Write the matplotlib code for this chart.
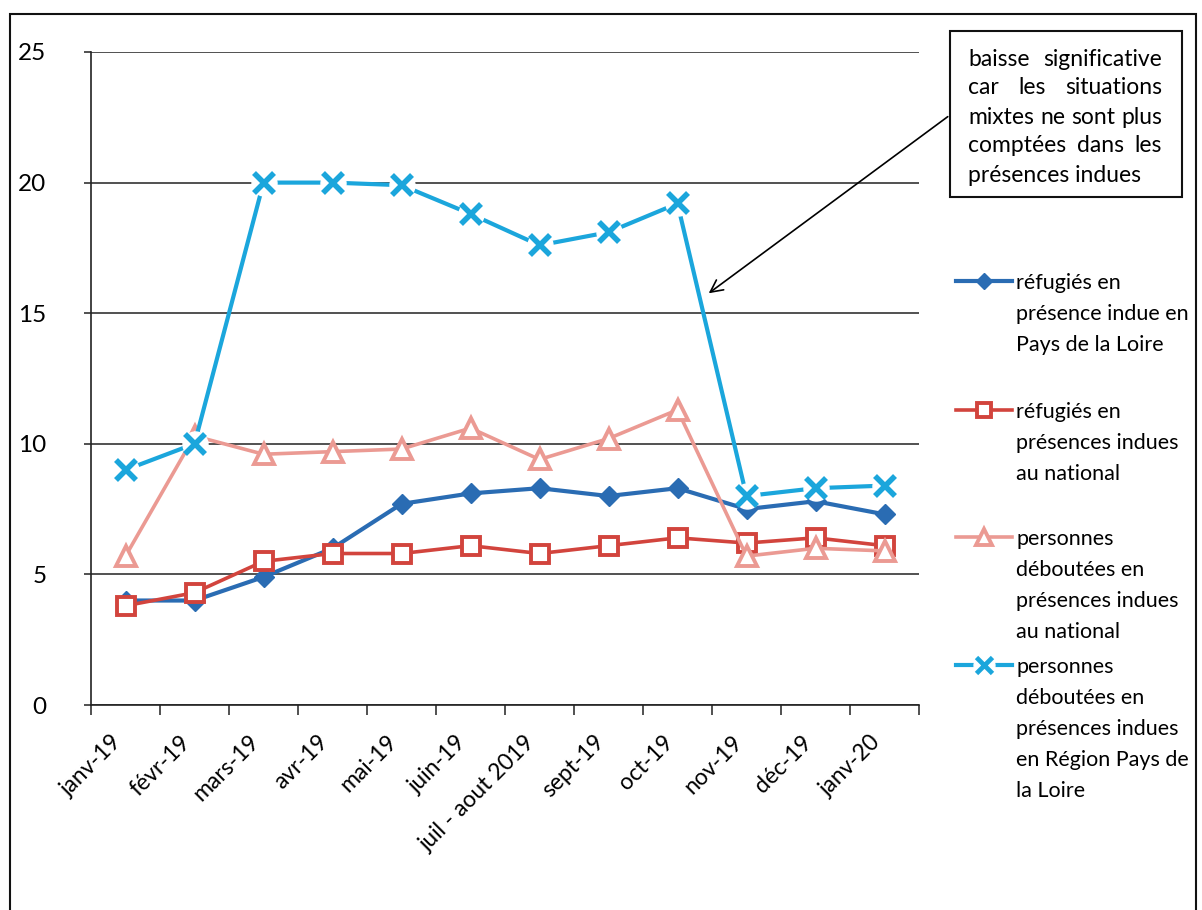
import numpy as np
import matplotlib
matplotlib.use("Agg")
import matplotlib.pyplot as plt
from matplotlib.patches import Rectangle
from matplotlib.lines import Line2D

plt.rcParams['font.family'] = ['Lato', 'DejaVu Sans']

mois = ['janv-19', 'févr-19', 'mars-19', 'avr-19', 'mai-19', 'juin-19',
        'juil - aout 2019', 'sept-19', 'oct-19', 'nov-19', 'déc-19', 'janv-20']
refugies_pdl = [4.0, 4.0, 4.9, 6.0, 7.7, 8.1, 8.3, 8.0, 8.3, 7.5, 7.8, 7.3]
refugies_nat = [3.8, 4.3, 5.5, 5.8, 5.8, 6.1, 5.8, 6.1, 6.4, 6.2, 6.4, 6.1]
deboutes_nat = [5.7, 10.3, 9.6, 9.7, 9.8, 10.6, 9.4, 10.2, 11.3, 5.7, 6.0, 5.9]
deboutes_pdl = [9.0, 10.0, 20.0, 20.0, 19.9, 18.8, 17.6, 18.1, 19.2, 8.0, 8.3, 8.4]

libelles = ['réfugiés en\nprésence indue en\nPays de la Loire',
            'réfugiés en\nprésences indues\nau national',
            'personnes\ndéboutées en\nprésences indues\nau national',
            'personnes\ndéboutées en\nprésences indues\nen Région Pays de\nla Loire']
note = ['baisse significative', 'car les situations', 'mixtes ne sont plus',
        'comptées dans les', 'présences indues']

W, H = 1202, 910
BLEU, ROUGE, ROSE, CYAN = '#2a6cb3', '#d2443d', '#eb9a93', '#1ba6dc'


def fx(px):
    return px / W


def fy(py):
    return 1 - py / H


fig = plt.figure(figsize=(W / 100, H / 100), dpi=100)
ax = fig.add_axes([fx(91), fy(705), fx(919 - 91), (705 - 52) / H])
x = np.arange(len(mois))

styles = [
    dict(color=BLEU, lw=3.0, marker='D', ms=10.5, mfc=BLEU, mec=BLEU),
    dict(color=ROUGE, lw=2.6, marker='s', ms=13, mfc='white', mec=ROUGE, mew=2.8),
    dict(color=ROSE, lw=2.6, marker='^', ms=14, mfc='white', mec=ROSE, mew=2.8),
    dict(color=CYAN, lw=3.0, marker='x', ms=15, mec=CYAN, mew=4.0),
]
series = [refugies_pdl, refugies_nat, deboutes_nat, deboutes_pdl]

for i, (vals, st) in enumerate(zip(series, styles)):
    if st['marker'] == 'x':
        ax.plot(x, vals, color=st['color'], lw=st['lw'], zorder=3 + i)
        # white backing so the line stops short of each cross
        ax.plot(x, vals, ls='none', marker='o', ms=18, mfc='white', mec='white', zorder=3 + i)
        ax.plot(x, vals, ls='none', marker='x', ms=st['ms'], mec=st['color'],
                mew=st['mew'], zorder=3 + i, clip_on=False)
    else:
        ax.plot(x, vals, zorder=3 + i, clip_on=False, **st)

ax.set_xlim(-0.5, len(mois) - 0.5)
ax.set_ylim(0, 25)
ax.set_yticks([0, 5, 10, 15, 20, 25])
ax.yaxis.grid(True, color='#222222', lw=1.1)
ax.set_axisbelow(True)
ax.tick_params(axis='y', length=5, width=1.1, color='#222222', pad=27, labelsize=17.5)
ax.set_xticks(x)
ax.set_xticklabels(mois, rotation=45, ha='right', fontsize=16.5)
ax.set_xticks(np.arange(len(mois) + 1) - 0.5, minor=True)
ax.tick_params(axis='x', which='major', length=0, pad=19)
ax.tick_params(axis='x', which='minor', length=7, width=1.1, color='#222222')
for s in ['top', 'right']:
    ax.spines[s].set_visible(False)
for s in ['left', 'bottom']:
    ax.spines[s].set_color('#222222')
    ax.spines[s].set_linewidth(1.2)

# legend drawn by hand: key aligned with the first line of each label
legende_y = [281, 410, 537, 665]
for st, lab, y0 in zip(styles, libelles, legende_y):
    if st['marker'] == 'x':
        fig.add_artist(Line2D([fx(956), fx(1012)], [fy(y0)] * 2, color=st['color'], lw=st['lw']))
        fig.add_artist(Line2D([fx(984)], [fy(y0)], ls='none', marker='o', ms=15,
                              mfc='white', mec='white'))
        fig.add_artist(Line2D([fx(984)], [fy(y0)], ls='none', marker='x', ms=12,
                              mec=st['color'], mew=3.4))
    else:
        kw = dict(st)
        kw['ms'] = st['ms'] * 0.8
        fig.add_artist(Line2D([fx(956), fx(984), fx(1012)], [fy(y0)] * 3,
                              markevery=[1], **kw))
    for k, ligne in enumerate(lab.split('\n')):
        fig.text(fx(1016), fy(y0 + k * 31), ligne, fontsize=15.5, va='center_baseline')

# note box with justified text
fig.patches.append(Rectangle((fx(950), fy(197)), fx(232), 166 / H, fill=False,
                             lw=1.5, ec='#111111', transform=fig.transFigure))
renderer = fig.canvas.get_renderer()
x0, x1 = 968, 1162
for k, ligne in enumerate(note):
    y = fy(57 + k * 29)
    mots = ligne.split()
    if k == len(note) - 1:
        fig.text(fx(x0), y, ligne, fontsize=16.5, va='center_baseline')
        continue
    txts = [fig.text(0, y, m, fontsize=16.5, va='center_baseline') for m in mots]
    larg = [t.get_window_extent(renderer).width for t in txts]
    ecart = (x1 - x0 - sum(larg)) / (len(mots) - 1)
    pos = x0
    for t, w in zip(txts, larg):
        t.set_x(fx(pos))
        pos += w + ecart

ax.annotate('', xy=(8.42, 15.7), xycoords='data',
            xytext=(fx(950), fy(115)), textcoords='figure fraction',
            arrowprops=dict(arrowstyle='->', lw=1.2, color='black', mutation_scale=22),
            annotation_clip=False)

# outer frame of the chart area
fig.patches.append(Rectangle((fx(10), -0.05), fx(1196 - 10), 1.05 - 14 / H, fill=False,
                             lw=1.5, ec='#111111', transform=fig.transFigure))

fig.savefig('out.png', dpi=100)
